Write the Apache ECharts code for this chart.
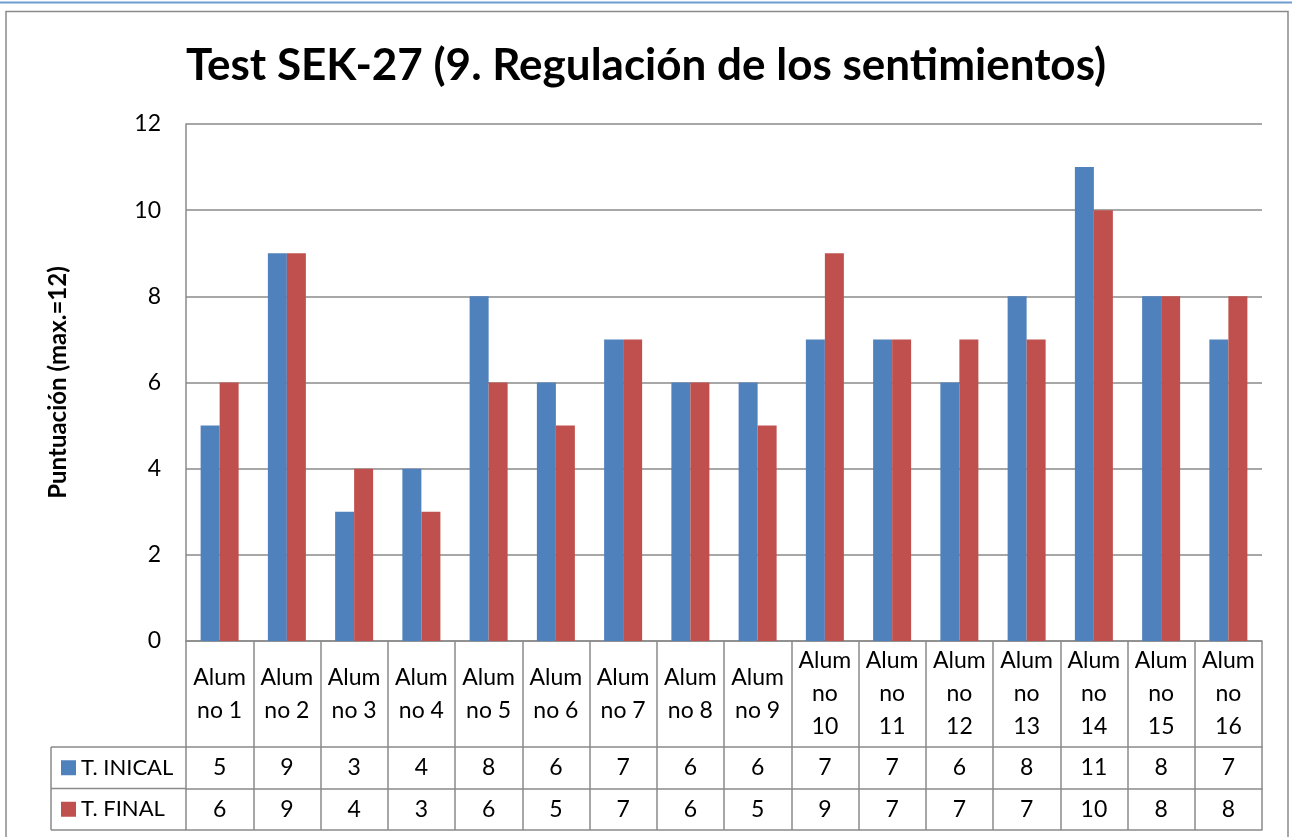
<!DOCTYPE html>
<html>
<head>
<meta charset="utf-8">
<script src="https://cdn.jsdelivr.net/npm/echarts@6/dist/echarts.min.js"></script>
<style>
  html, body { margin: 0; padding: 0; background: #fff; }
  #chart { width: 1292px; height: 837px; }
</style>
</head>
<body>
<div id="chart"></div>
<script>
// data
const categories = [
  'Alum\nno 1', 'Alum\nno 2', 'Alum\nno 3', 'Alum\nno 4', 'Alum\nno 5', 'Alum\nno 6',
  'Alum\nno 7', 'Alum\nno 8', 'Alum\nno 9', 'Alum\nno\n10', 'Alum\nno\n11', 'Alum\nno\n12',
  'Alum\nno\n13', 'Alum\nno\n14', 'Alum\nno\n15', 'Alum\nno\n16'
];
const inicial = [5, 9, 3, 4, 8, 6, 7, 6, 6, 7, 7, 6, 8, 11, 8, 7];
const final = [6, 9, 4, 3, 6, 5, 7, 6, 5, 9, 7, 7, 7, 10, 8, 8];
const seriesNames = ['T. INICAL', 'T. FINAL'];
const yTicks = { min: 0, max: 12, interval: 2 };

const FONT = 'Lato';
const FS = 23;
const lineColor = '#8a8a8a';
const colors = { inicial: '#4f81bd', final: '#c0504d' };

// layout of the plot + data table
const gridLeft = 186;
const gridRight = 1262;
const gridTop = 124;
const gridBottom = 641;
const catRow = 106;   // height of the category label row
const valRow = 41.5;  // height of each value row
const tableLeft = 51;

const chart = echarts.init(document.getElementById('chart'));

const tableAxis = (offset, formatter, showLabel) => ({
  type: 'category',
  gridIndex: 0,
  position: 'bottom',
  offset: offset,
  data: categories,
  boundaryGap: true,
  axisLine: { show: true, lineStyle: { color: lineColor, width: 1.5 } },
  axisTick: { show: false },
  axisLabel: {
    show: showLabel,
    interval: 0,
    margin: valRow / 2,
    verticalAlign: 'middle',
    color: '#000',
    fontFamily: FONT,
    fontSize: FS,
    formatter: formatter
  },
  splitLine: { show: false }
});

const option = {
  backgroundColor: '#fff',
  animation: false,
  title: {
    text: 'Test SEK-27 (9. Regulación de los sentimientos)',
    left: 'center',
    top: 44,
    padding: 0,
    textStyle: { fontFamily: FONT, fontSize: 44, fontWeight: 'bold', color: '#000' }
  },
  legend: {
    data: seriesNames,
    orient: 'vertical',
    left: 61,
    top: gridBottom + catRow + valRow / 2 - 11,
    padding: 0,
    icon: 'rect',
    itemWidth: 15,
    itemHeight: 15,
    itemGap: valRow - 22,
    textStyle: { fontFamily: FONT, fontSize: 22, color: '#000', lineHeight: 22 }
  },
  grid: {
    left: gridLeft,
    right: 1292 - gridRight,
    top: gridTop,
    bottom: 837 - gridBottom
  },
  xAxis: [
    {
      type: 'category',
      data: categories,
      boundaryGap: true,
      axisLine: { lineStyle: { color: lineColor, width: 1.5 } },
      axisTick: {
        show: true,
        alignWithLabel: false,
        length: catRow + 2 * valRow,
        lineStyle: { color: lineColor, width: 1.5 }
      },
      axisLabel: {
        interval: 0,
        margin: catRow / 2,
        verticalAlign: 'middle',
        color: '#000',
        fontFamily: FONT,
        fontSize: FS,
        lineHeight: 33
      },
      splitLine: { show: false }
    },
    tableAxis(catRow, (v, i) => String(inicial[i]), true),
    tableAxis(catRow + valRow, (v, i) => String(final[i]), true),
    tableAxis(catRow + 2 * valRow, null, false)
  ],
  yAxis: {
    type: 'value',
    min: yTicks.min,
    max: yTicks.max,
    interval: yTicks.interval,
    name: 'Puntuación (max.=12)',
    nameLocation: 'middle',
    nameGap: 116,
    nameTextStyle: { fontFamily: FONT, fontSize: 24, fontWeight: 'bold', color: '#000' },
    axisLine: { show: true, lineStyle: { color: lineColor, width: 1.5 } },
    axisTick: { show: false },
    axisLabel: { color: '#000', fontFamily: FONT, fontSize: FS, margin: 25 },
    splitLine: { lineStyle: { color: lineColor, width: 1.5 } }
  },
  series: [
    {
      name: seriesNames[0],
      type: 'bar',
      data: inicial,
      barWidth: 19,
      barGap: '0%',
      itemStyle: { color: colors.inicial }
    },
    {
      name: seriesNames[1],
      type: 'bar',
      data: final,
      barWidth: 19,
      barGap: '0%',
      itemStyle: { color: colors.final }
    }
  ],
  graphic: [
    // thin blue rule at the top of the page
    { type: 'line', shape: { x1: 0, y1: 2.5, x2: 1292, y2: 2.5 }, style: { stroke: '#6f9bd1', lineWidth: 2 }, silent: true },
    // chart frame
    { type: 'rect', shape: { x: 6, y: 11.5, width: 1282, height: 840 }, style: { fill: null, stroke: lineColor, lineWidth: 1.5 }, silent: true },
    // left (legend) column of the data table
    { type: 'line', shape: { x1: tableLeft, y1: gridBottom + catRow, x2: gridLeft, y2: gridBottom + catRow }, style: { stroke: lineColor, lineWidth: 1.5 }, silent: true },
    { type: 'line', shape: { x1: tableLeft, y1: gridBottom + catRow + valRow, x2: gridLeft, y2: gridBottom + catRow + valRow }, style: { stroke: lineColor, lineWidth: 1.5 }, silent: true },
    { type: 'line', shape: { x1: tableLeft, y1: gridBottom + catRow + 2 * valRow, x2: gridLeft, y2: gridBottom + catRow + 2 * valRow }, style: { stroke: lineColor, lineWidth: 1.5 }, silent: true },
    { type: 'line', shape: { x1: tableLeft, y1: gridBottom + catRow, x2: tableLeft, y2: gridBottom + catRow + 2 * valRow }, style: { stroke: lineColor, lineWidth: 1.5 }, silent: true }
  ]
};

chart.setOption(option);
</script>
</body>
</html>
